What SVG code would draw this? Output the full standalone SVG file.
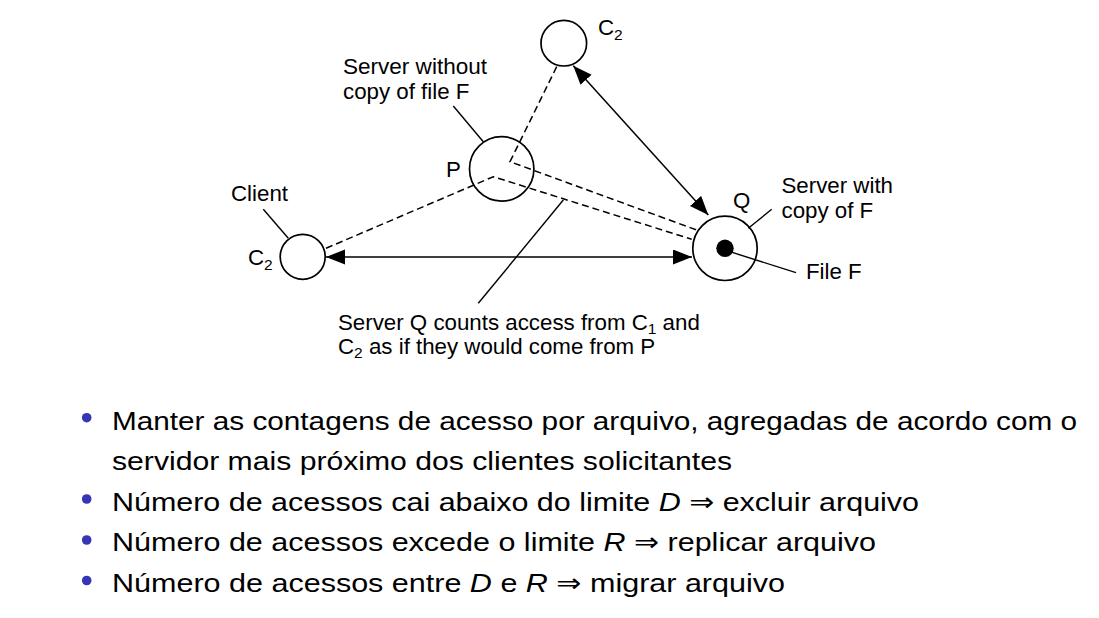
<svg xmlns="http://www.w3.org/2000/svg" width="1099" height="618" viewBox="0 0 1099 618">
<defs>
<style>
.lbl{font-family:"Liberation Sans",Arial,Helvetica,sans-serif;font-size:22.3px;fill:#000}
.sub{font-size:15.5px}
.node{fill:none;stroke:#000;stroke-width:1.7}
.dash{fill:none;stroke:#000;stroke-width:1.5;stroke-dasharray:7 4}
.solid{fill:none;stroke:#000;stroke-width:1.5}
.lead{fill:none;stroke:#000;stroke-width:1.4}
.bul{font-family:"Liberation Sans",Arial,Helvetica,"DejaVu Sans",sans-serif;font-size:26.5px;fill:#000}
.it{font-style:italic}
.arr{font-family:"DejaVu Sans",sans-serif;font-size:26px}
.dot{fill:#3535b5}
</style>
<marker id="ah" markerUnits="userSpaceOnUse" markerWidth="20" markerHeight="16" refX="19" refY="7.5" orient="auto-start-reverse" viewBox="0 0 20 16">
<path d="M0,0 L19,7.5 L0,15 z" fill="#000"/>
</marker>
</defs>
<rect width="1099" height="618" fill="#fff"/>

<g id="connectors">
<polyline class="dash" points="326,248.3 493.3,176.7 691.7,239.3"/>
<polyline class="dash" points="556.7,66.7 510,161.7 696.7,230"/>
<line class="solid" x1="326" y1="257" x2="692" y2="257" marker-start="url(#ah)" marker-end="url(#ah)"/>
<line class="solid" x1="573.3" y1="65.7" x2="708.3" y2="215" marker-start="url(#ah)" marker-end="url(#ah)"/>
<line class="lead" x1="453.3" y1="106" x2="483.3" y2="141.7"/>
<line class="lead" x1="263.3" y1="209.3" x2="288.3" y2="238.3"/>
<line class="lead" x1="748.3" y1="228.3" x2="771.7" y2="209.3"/>
<line class="lead" x1="730" y1="251.7" x2="796" y2="272.7"/>
<line class="lead" x1="563.3" y1="200" x2="478.3" y2="303.3"/>
</g>

<g id="node-P">
<circle class="node" cx="501.7" cy="168.9" r="32.2"/>
<text class="lbl" x="446" y="177">P</text>
<text class="lbl" x="343" y="74" textLength="144" lengthAdjust="spacingAndGlyphs">Server without</text>
<text class="lbl" x="343" y="99">copy of file F</text>
</g>

<g id="node-client">
<circle class="node" cx="302.7" cy="256.8" r="22.5"/>
<text class="lbl" x="231" y="201">Client</text>
<text class="lbl" x="248" y="265">C<tspan class="sub" dy="5">2</tspan></text>
</g>

<g id="node-C2-top">
<circle class="node" cx="563.8" cy="43.2" r="22.8"/>
<text class="lbl" x="598" y="35">C<tspan class="sub" dy="5">2</tspan></text>
</g>

<g id="node-Q">
<circle class="node" cx="725" cy="248.3" r="32.2"/>
<circle cx="725" cy="248.3" r="8.7" fill="#000"/>
<text class="lbl" x="733" y="208">Q</text>
<text class="lbl" x="781.5" y="193">Server with</text>
<text class="lbl" x="781.5" y="218">copy of F</text>
<text class="lbl" x="806" y="279">File F</text>
</g>

<g id="note">
<text class="lbl" x="338" y="330">Server Q counts access from C<tspan class="sub" dy="3.5">1</tspan><tspan dy="-3.5"> and</tspan></text>
<text class="lbl" x="338" y="354">C<tspan class="sub" dy="4">2</tspan><tspan dy="-4"> as if they would come from P</tspan></text>
</g>

<g id="bullets">
<circle class="dot" cx="86.7" cy="417.7" r="4.8"/>
<circle class="dot" cx="86.7" cy="499" r="4.8"/>
<circle class="dot" cx="86.7" cy="540" r="4.8"/>
<circle class="dot" cx="86.7" cy="580.5" r="4.8"/>
<text class="bul" x="112" y="429.5" textLength="965" lengthAdjust="spacingAndGlyphs">Manter as contagens de acesso por arquivo, agregadas de acordo com o</text>
<text class="bul" x="112" y="470" textLength="620" lengthAdjust="spacingAndGlyphs">servidor mais próximo dos clientes solicitantes</text>
<text class="bul" x="112" y="510.5" textLength="807" lengthAdjust="spacingAndGlyphs">Número de acessos cai abaixo do limite <tspan class="it">D</tspan> <tspan class="arr">⇒</tspan> excluir arquivo</text>
<text class="bul" x="112" y="551" textLength="764" lengthAdjust="spacingAndGlyphs">Número de acessos excede o limite <tspan class="it">R</tspan> <tspan class="arr">⇒</tspan> replicar arquivo</text>
<text class="bul" x="112" y="591.5" textLength="673" lengthAdjust="spacingAndGlyphs">Número de acessos entre <tspan class="it">D</tspan> e <tspan class="it">R</tspan> <tspan class="arr">⇒</tspan> migrar arquivo</text>
</g>
</svg>
